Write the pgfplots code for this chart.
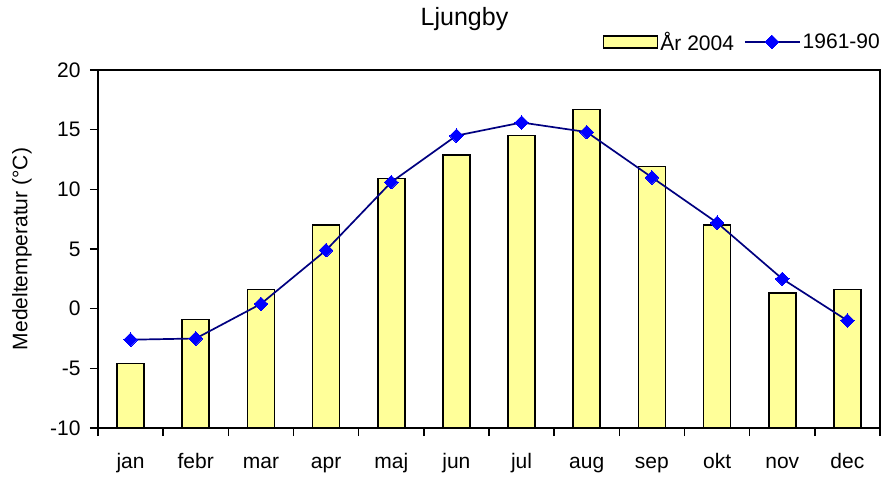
\documentclass[border=0pt]{standalone}
\usepackage{pgfplots}
\pgfplotsset{compat=1.18}
\usepackage{fontspec}
\setmainfont{Liberation Sans}
\definecolor{baryellow}{HTML}{FFFF99}
\definecolor{linenavy}{HTML}{000080}
\pgfplotsset{
    barleg/.style={legend image code/.code={\draw[##1, line width=1.6pt] (0pt,-6pt) rectangle (54pt,6pt);}},
    lineleg/.style={legend image code/.code={\draw[mark repeat=2, mark phase=2, ##1]
        plot coordinates {(0pt,0pt) (27pt,0pt) (55pt,0pt)};}},
}
\begin{document}
\begin{tikzpicture}[font=\fontsize{21}{25}\selectfont]
\path[use as bounding box] (-98pt,-49pt) rectangle (791pt,428pt);
\begin{axis}[
    at={(0,0)}, anchor=south west,
    scale only axis, width=782pt, height=358pt,
    % bars start at the bottom of the axis (-10), as in Excel
    y coord trafo/.code={\pgfmathparse{#1+10}},
    y coord inv trafo/.code={\pgfmathparse{#1-10}},
    ymin=-10, ymax=20,
    ytick={-10,-5,0,5,10,15,20},
    xmin=-0.5, xmax=11.5,
    xtick={0,...,11},
    xticklabels={jan,febr,mar,apr,maj,jun,jul,aug,sep,okt,nov,dec},
    minor xtick={-0.5,0.5,...,11.5},
    major x tick style={draw=none},
    tick align=outside,
    major tick length=8pt, minor tick length=8pt,
    tick style={black, line width=1.5pt},
    axis line style={line width=1.5pt},
    xtick pos=bottom, ytick pos=left,
    ticklabel style={/pgf/number format/assume math mode=true},
    xticklabel style={anchor=base, yshift=-32pt},
    yticklabel style={xshift=-6pt},
    ylabel={Medeltemperatur (°C)},
    ylabel style={at={(axis description cs:-0.0972,0.5)}, anchor=center},
    title={Ljungby},
    title style={at={(axis description cs:0.4687,1)}, anchor=base, yshift=38pt,
                 font=\fontsize{25}{30}\selectfont},
    legend columns=2,
    legend style={draw=none, fill=none, at={(axis description cs:1,1)}, anchor=south east,
                  yshift=16pt, xshift=2pt, inner sep=0pt,
                  /tikz/every even column/.append style={column sep=8pt}},
    legend cell align=left,
]
\addplot[ybar, bar width=27pt, fill=baryellow, draw=black, line width=1.6pt, barleg]
    coordinates {
    (0,-4.6) (1,-0.9) (2,1.6) (3,7.0) (4,10.9) (5,12.9)
    (6,14.5) (7,16.7) (8,11.9) (9,7.0) (10,1.3) (11,1.6)
};
\addlegendentry{År 2004}
\addplot[linenavy, line width=1.7pt, mark=square*,
    mark options={rotate=45, blue, fill=blue, line width=0pt, solid}, mark size=4.8pt, lineleg]
    coordinates {
    (0,-2.6) (1,-2.5) (2,0.4) (3,4.9) (4,10.6) (5,14.5)
    (6,15.6) (7,14.8) (8,11.0) (9,7.2) (10,2.5) (11,-1.0)
};
\addlegendentry{1961-90}
\end{axis}
\end{tikzpicture}
\end{document}
